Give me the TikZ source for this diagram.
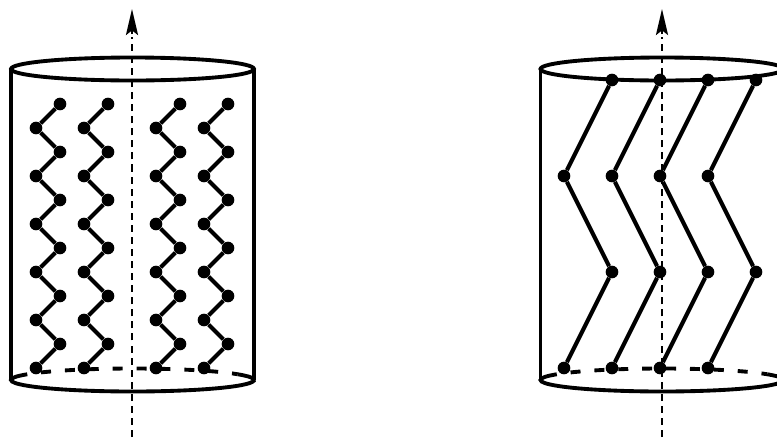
\documentclass[tikz,border=0pt]{standalone}
\usetikzlibrary{arrows.meta}
\tikzset{
  wall/.style={line width=3.3pt},
  chain/.style={line width=3.5pt},
  dot/.style={circle,fill=black,inner sep=0pt,minimum size=.38cm},
  axis/.style={line width=2.1pt,dash pattern=on 6pt off 4.3pt},
  tip/.style={line width=2.1pt,-{Stealth[length=.78cm,width=.36cm,inset=.14cm]}},
  back/.style={line width=3.3pt,dash pattern=on 8.5pt off 11.9pt,dash phase=8.5pt}
}
\begin{document}
\begin{tikzpicture}[x=.03cm,y=.03cm,yscale=-1]
\useasboundingbox (0,0) rectangle (777,440);
\clip (0,0) rectangle (777,440);

% left cylinder
\coordinate (LT) at (11,69);	\coordinate (LB) at (11,380);
\coordinate (RT) at (254,69);	\coordinate (RB) at (254,380);
\coordinate (X0) at (132,437);	\coordinate (X1) at (132,9);
\draw[axis](X0)--(132,37);
\draw[tip](132,34)--(X1);
\draw[wall](LT)--(LB)  (RT)--(RB);
\draw[wall](132.5,69) ellipse [x radius=121.5,y radius=11.5];
\draw[wall](132.5,380) ++(-30:121.5 and 11.5) arc [start angle=-30,end angle=210,x radius=121.5,y radius=11.5];
\draw[back](132.5,380) ++(210:121.5 and 11.5) arc [start angle=210,end angle=330,x radius=121.5,y radius=11.5];

% left chains
\node[dot](A1) at (60,104){};	\node[dot](B1) at (108,104){};	\node[dot](C1) at (180,104){};	\node[dot](D1) at (228,104){};
\node[dot](A2) at (36,128){};	\node[dot](B2) at (84,128){};	\node[dot](C2) at (156,128){};	\node[dot](D2) at (204,128){};
\node[dot](A3) at (60,152){};	\node[dot](B3) at (108,152){};	\node[dot](C3) at (180,152){};	\node[dot](D3) at (228,152){};
\node[dot](A4) at (36,176){};	\node[dot](B4) at (84,176){};	\node[dot](C4) at (156,176){};	\node[dot](D4) at (204,176){};
\node[dot](A5) at (60,200){};	\node[dot](B5) at (108,200){};	\node[dot](C5) at (180,200){};	\node[dot](D5) at (228,200){};
\node[dot](A6) at (36,224){};	\node[dot](B6) at (84,224){};	\node[dot](C6) at (156,224){};	\node[dot](D6) at (204,224){};
\node[dot](A7) at (60,248){};	\node[dot](B7) at (108,248){};	\node[dot](C7) at (180,248){};	\node[dot](D7) at (228,248){};
\node[dot](A8) at (36,272){};	\node[dot](B8) at (84,272){};	\node[dot](C8) at (156,272){};	\node[dot](D8) at (204,272){};
\node[dot](A9) at (60,296){};	\node[dot](B9) at (108,296){};	\node[dot](C9) at (180,296){};	\node[dot](D9) at (228,296){};
\node[dot](A10) at (36,320){};	\node[dot](B10) at (84,320){};	\node[dot](C10) at (156,320){};	\node[dot](D10) at (204,320){};
\node[dot](A11) at (60,344){};	\node[dot](B11) at (108,344){};	\node[dot](C11) at (180,344){};	\node[dot](D11) at (228,344){};
\node[dot](A12) at (36,368){};	\node[dot](B12) at (84,368){};	\node[dot](C12) at (156,368){};	\node[dot](D12) at (204,368){};

\draw[chain](A1)--(A2)--(A3)--(A4)--(A5)--(A6)--(A7)--(A8)--(A9)--(A10)--(A11)--(A12);
\draw[chain](B1)--(B2)--(B3)--(B4)--(B5)--(B6)--(B7)--(B8)--(B9)--(B10)--(B11)--(B12);
\draw[chain](C1)--(C2)--(C3)--(C4)--(C5)--(C6)--(C7)--(C8)--(C9)--(C10)--(C11)--(C12);
\draw[chain](D1)--(D2)--(D3)--(D4)--(D5)--(D6)--(D7)--(D8)--(D9)--(D10)--(D11)--(D12);

% right cylinder
\coordinate (LT') at (540.5,69);	\coordinate (LB') at (540.5,380);
\coordinate (Y0) at (662,437);	\coordinate (Y1) at (662,9);
\draw[axis](Y0)--(662,37);
\draw[tip](662,34)--(Y1);
\draw[wall](LT')--(LB');
\draw[wall](662,69) ellipse [x radius=121.5,y radius=11.5];
\draw[wall](662,380) ++(-30:121.5 and 11.5) arc [start angle=-30,end angle=210,x radius=121.5,y radius=11.5];
\draw[back](662,380) ++(210:121.5 and 11.5) arc [start angle=210,end angle=330,x radius=121.5,y radius=11.5];

% right chains
\node[dot](E1) at (612,80){};	\node[dot](F1) at (660,80){};	\node[dot](G1) at (708,80){};	\node[dot](H1) at (756,80){};
\node[dot](E2) at (564,176){};	\node[dot](F2) at (612,176){};	\node[dot](G2) at (660,176){};	\node[dot](H2) at (708,176){};
\node[dot](E3) at (612,272){};	\node[dot](F3) at (660,272){};	\node[dot](G3) at (708,272){};	\node[dot](H3) at (756,272){};
\node[dot](E4) at (564,368){};	\node[dot](F4) at (612,368){};	\node[dot](G4) at (660,368){};	\node[dot](H4) at (708,368){};

\draw[chain](E1)--(E2)--(E3)--(E4);
\draw[chain](F1)--(F2)--(F3)--(F4);
\draw[chain](G1)--(G2)--(G3)--(G4);
\draw[chain](H1)--(H2)--(H3)--(H4);

\end{tikzpicture}
\end{document}
